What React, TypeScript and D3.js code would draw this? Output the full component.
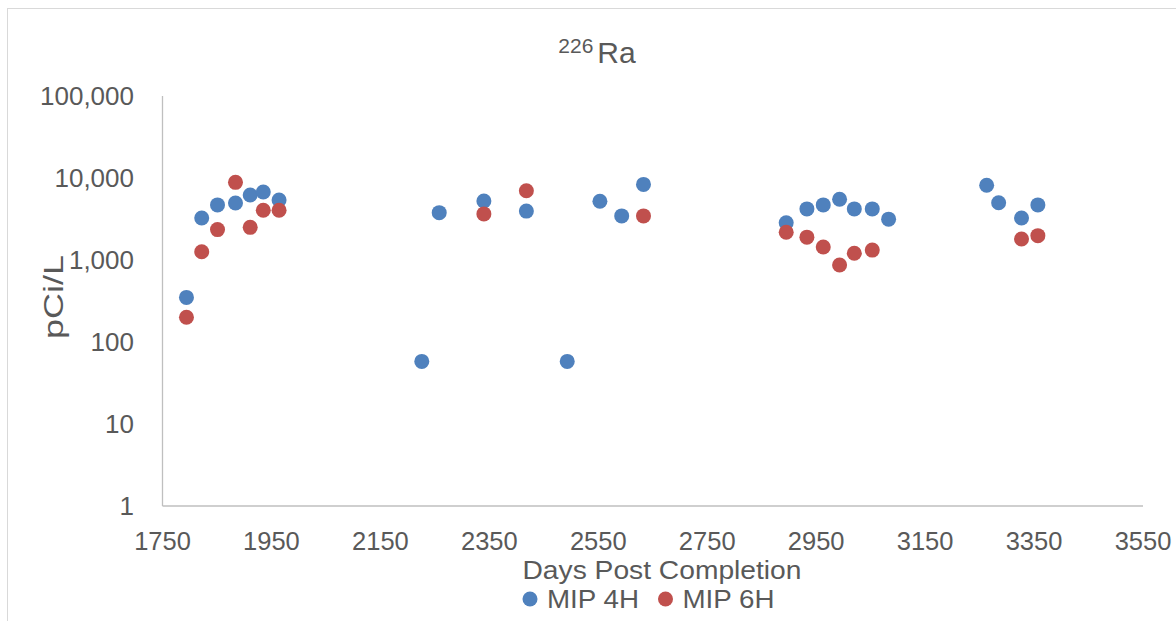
import React, { useEffect, useRef } from "react";
import * as d3 from "d3";

// MIP 4H series (days post completion, pCi/L)
const days4H = [1794, 1822, 1851, 1884, 1911, 1935, 1964, 2226, 2258, 2340, 2418, 2493, 2553, 2593, 2633, 2895, 2933, 2963, 2993, 3020, 3053, 3083, 3263, 3285, 3327, 3357];
const ra4H = [350, 3250, 4700, 4950, 6200, 6750, 5400, 58, 3780, 5250, 3950, 58, 5200, 3450, 8350, 2850, 4200, 4700, 5500, 4200, 4200, 3150, 8150, 5000, 3250, 4700];

// MIP 6H series
const days6H = [1794, 1822, 1851, 1884, 1911, 1935, 1964, 2340, 2418, 2633, 2895, 2933, 2963, 2993, 3020, 3053, 3327, 3357];
const ra6H = [200, 1260, 2350, 8850, 2500, 4050, 4050, 3650, 7000, 3450, 2180, 1900, 1440, 870, 1210, 1320, 1800, 1980];

const xTicks = [1750, 1950, 2150, 2350, 2550, 2750, 2950, 3150, 3350, 3550];
const yTicks = [1, 10, 100, 1000, 10000, 100000];

const seriesNames = ["MIP 4H", "MIP 6H"];
const seriesColors = ["#4F81BD", "#C0504D"];

const App = () => {
    const svgRef = useRef(null);

    useEffect(() => {
        const svg = d3.select(svgRef.current);
        svg.selectAll("*").remove();

        const width = 1176;
        const height = 621;
        const font = "'Liberation Sans', Arial, sans-serif";
        const textColor = "#595959";

        svg.attr("width", width).attr("height", height);

        // chart frame
        svg.append("rect")
            .attr("x", 7.5)
            .attr("y", 8.5)
            .attr("width", 1200)
            .attr("height", 700)
            .attr("fill", "#ffffff")
            .attr("stroke", "#d9d9d9")
            .attr("stroke-width", 1);

        const x = d3.scaleLinear().domain([1750, 3550]).range([162.5, 1143]);
        const y = d3.scaleLog().domain([1, 100000]).range([506, 96]);

        // axes lines
        svg.append("line")
            .attr("x1", x(1750)).attr("x2", x(3550))
            .attr("y1", y(1)).attr("y2", y(1))
            .attr("stroke", "#bfbfbf").attr("stroke-width", 1.3);
        svg.append("line")
            .attr("x1", x(1750)).attr("x2", x(1750))
            .attr("y1", y(1)).attr("y2", y(100000))
            .attr("stroke", "#bfbfbf").attr("stroke-width", 1.3);

        // x tick labels
        svg.append("g")
            .selectAll("text")
            .data(xTicks)
            .enter()
            .append("text")
            .attr("x", d => x(d))
            .attr("y", 550)
            .attr("text-anchor", "middle")
            .attr("fill", textColor)
            .style("font-family", font)
            .style("font-size", "25.5px")
            .text(d => d);

        // y tick labels
        const fmt = d3.format(",");
        svg.append("g")
            .selectAll("text")
            .data(yTicks)
            .enter()
            .append("text")
            .attr("x", 134)
            .attr("y", d => y(d) + 9)
            .attr("text-anchor", "end")
            .attr("fill", textColor)
            .style("font-family", font)
            .style("font-size", "26px")
            .text(d => fmt(d));

        // title with superscript
        const title = svg.append("text")
            .attr("x", 597)
            .attr("y", 63)
            .attr("text-anchor", "middle")
            .attr("fill", textColor)
            .style("font-family", font);
        title.append("tspan")
            .attr("dy", -10)
            .style("font-size", "21px")
            .text("226");
        title.append("tspan")
            .attr("dy", 10)
            .attr("dx", 4)
            .style("font-size", "30px")
            .text("Ra");

        // axis titles
        svg.append("text")
            .attr("x", 662)
            .attr("y", 579)
            .attr("text-anchor", "middle")
            .attr("fill", textColor)
            .style("font-family", font)
            .style("font-size", "26px")
            .attr("textLength", 279)
            .attr("lengthAdjust", "spacingAndGlyphs")
            .text("Days Post Completion");

        svg.append("text")
            .attr("transform", "translate(63, 297) rotate(-90)")
            .attr("text-anchor", "middle")
            .attr("fill", textColor)
            .style("font-family", font)
            .style("font-size", "28px")
            .attr("textLength", 84)
            .attr("lengthAdjust", "spacingAndGlyphs")
            .text("pCi/L");

        // points
        const series = [
            days4H.map((d, i) => ({ day: d, value: ra4H[i] })),
            days6H.map((d, i) => ({ day: d, value: ra6H[i] }))
        ];
        series.forEach((pts, s) => {
            svg.append("g")
                .selectAll("circle")
                .data(pts)
                .enter()
                .append("circle")
                .attr("cx", d => x(d.day))
                .attr("cy", d => y(d.value))
                .attr("r", 7.5)
                .attr("fill", seriesColors[s]);
        });

        // legend
        const legendX = [530, 665.5];
        seriesNames.forEach((name, i) => {
            const g = svg.append("g").attr("transform", `translate(${legendX[i]}, 599)`);
            g.append("circle")
                .attr("r", 7.5)
                .attr("fill", seriesColors[i]);
            g.append("text")
                .attr("x", 17)
                .attr("y", 9)
                .attr("fill", textColor)
                .style("font-family", font)
                .style("font-size", "26px")
                .attr("textLength", 92)
                .attr("lengthAdjust", "spacingAndGlyphs")
                .text(name);
        });
    }, []);

    return (
        <div style={{ position: "absolute", left: 0, top: 0 }}>
            <svg ref={svgRef} style={{ display: "block" }}></svg>
        </div>
    );
};

export default App;
